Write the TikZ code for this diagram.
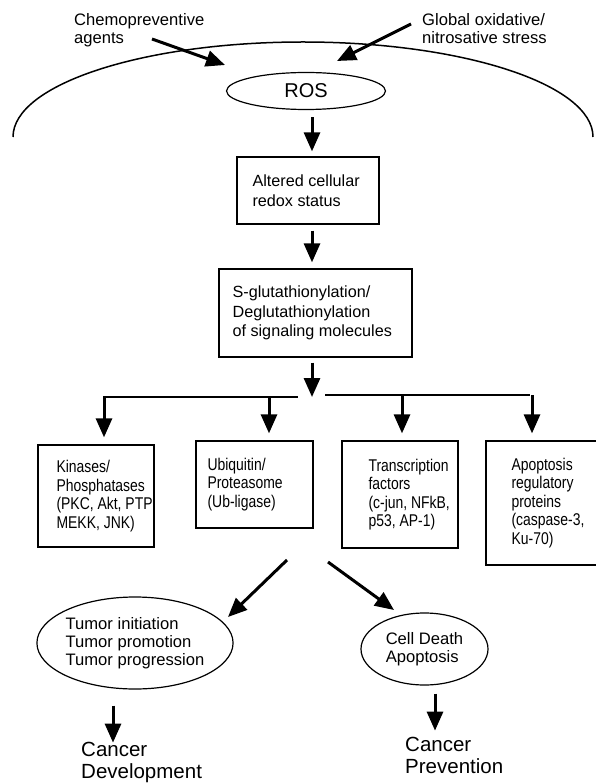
\documentclass[tikz,border=0pt]{standalone}
\usepackage{fontspec}
\setmainfont{Liberation Sans}
\newfontfamily\narrowsans[FakeStretch=0.82]{Liberation Sans}
\usetikzlibrary{arrows.meta,shapes.geometric}

\tikzset{
    flow/.style={line width=3pt,-{Triangle[length=19pt,width=16pt]}},
    txt/.style={align=left,font=\fontsize{16.6}{18}\selectfont},
    big/.style={align=left,font=\fontsize{20.5}{22}\selectfont},
    stage/.style={draw,line width=1.3pt},
    stagetext/.style={align=left,font=\narrowsans\fontsize{17}{18.5}\selectfont},
    blob/.style={ellipse,draw,line width=1.2pt,align=left,font=\fontsize{16.6}{18}\selectfont}
}

\begin{document}
\begin{tikzpicture}[x=1pt,y=-1pt,every node/.style={inner sep=0pt}]
        \useasboundingbox (0,0) rectangle (595,783);
        \draw[line width=1.5pt] (13,137) arc[start angle=180,end angle=0,x radius=290pt,y radius=95pt]; % cell
        \node [txt,anchor=north west] (chemo) at (74,13) {Chemopreventive\\agents};
        \node [txt,anchor=north west] (stress) at (422,13) {Global oxidative/\\nitrosative stress};
        \node [ellipse,draw,line width=1.2pt,minimum width=159pt,minimum height=37pt,font=\fontsize{20}{24}\selectfont] (ros) at (306,91) {ROS};
        \coordinate (chemo-out) at (152,39);
        \coordinate (ros-in1) at (225,65);
        \coordinate (stress-out) at (411,24);
        \coordinate (ros-in2) at (337,61);
        \draw[flow] (chemo-out) -- (ros-in1);
        \draw[flow] (stress-out) -- (ros-in2);
        \node [stage,minimum width=142pt,minimum height=67pt] (redox) at (308,190.5) {};
        \node [txt,anchor=west,font=\fontsize{16.2}{20}\selectfont] (redox-text) at ([xshift=16pt]redox.west) {Altered cellular\\redox status};
        \node [stage,minimum width=193pt,minimum height=88pt] (glut) at (315.5,313) {};
        \node [txt,anchor=west,font=\fontsize{16.2}{19.5}\selectfont] (glut-text) at ([xshift=14pt]glut.west) {S-glutathionylation/\\Deglutathionylation\\of signaling molecules};
        \coordinate (fork) at (312,397);
        \draw[flow,shorten <=7pt,shorten >=5pt] (ros.south -| fork) -- (redox.north -| fork);
        \draw[flow,shorten <=6pt,shorten >=6pt] (redox.south -| fork) -- (glut.north -| fork);
        \draw[flow,shorten <=5pt] (glut.south -| fork) -- (fork);
        \draw[line width=2.5pt] (103,397) -- (298,397); % left branch
        \draw[line width=1.2pt] (325,395) -- (530,395); % right branch
        \foreach \n/\x/\y/\w/\h/\s/\ax/\by/\lines in {
            kin/96/496/116/102/19/104/397/{Kinases/\\Phosphatases\\(PKC, Akt, PTP\\MEKK, JNK)},
            ubq/254.5/484.5/117/87/12/269/397/{Ubiquitin/\\Proteasome\\(Ub-ligase)},
            tf/400/494.5/116/107/27/402/395/{Transcription\\factors\\(c-jun, NFkB,\\p53, AP-1)},
            apo/543/503/114/124/26/532/395/{Apoptosis\\regulatory\\proteins\\(caspase-3,\\Ku-70)}} {
            \node [stage,minimum width=\w,minimum height=\h] (\n) at (\x,\y) {};
            \node [stagetext,anchor=west] (\n-text) at ([xshift=\s]\n.west) {\lines};
            \coordinate (\n-in) at (\ax,\by);
            \draw[flow,shorten >=7pt] (\n-in) -- (\n-in |- \n.north); % branch arrows
        }
        \node [blob,minimum width=190pt,minimum height=92pt] (tumor) at (135,643) {Tumor initiation\\Tumor promotion\\Tumor progression};
        \node [blob,minimum width=127pt,minimum height=72pt] (death) at (424.5,649) {Cell Death\\Apoptosis};
        \coordinate (split-l) at (287,560);
        \coordinate (tumor-in) at (228,617);
        \coordinate (split-r) at (328,562);
        \coordinate (death-in) at (394,610);
        \draw[flow] (split-l) -- (tumor-in);
        \draw[flow] (split-r) -- (death-in);
        \node [big,anchor=north west] (dev) at (81,742) {Cancer\\Development};
        \node [big,anchor=north west] (prev) at (405,737) {Cancer\\Prevention};
        \draw[flow] ([xshift=-22pt]tumor.south) ++(0,16) -- ++(0,37);
        \draw[flow] ([xshift=10.5pt]death.south) ++(0,8) -- ++(0,37);
    \end{tikzpicture}
\end{document}
